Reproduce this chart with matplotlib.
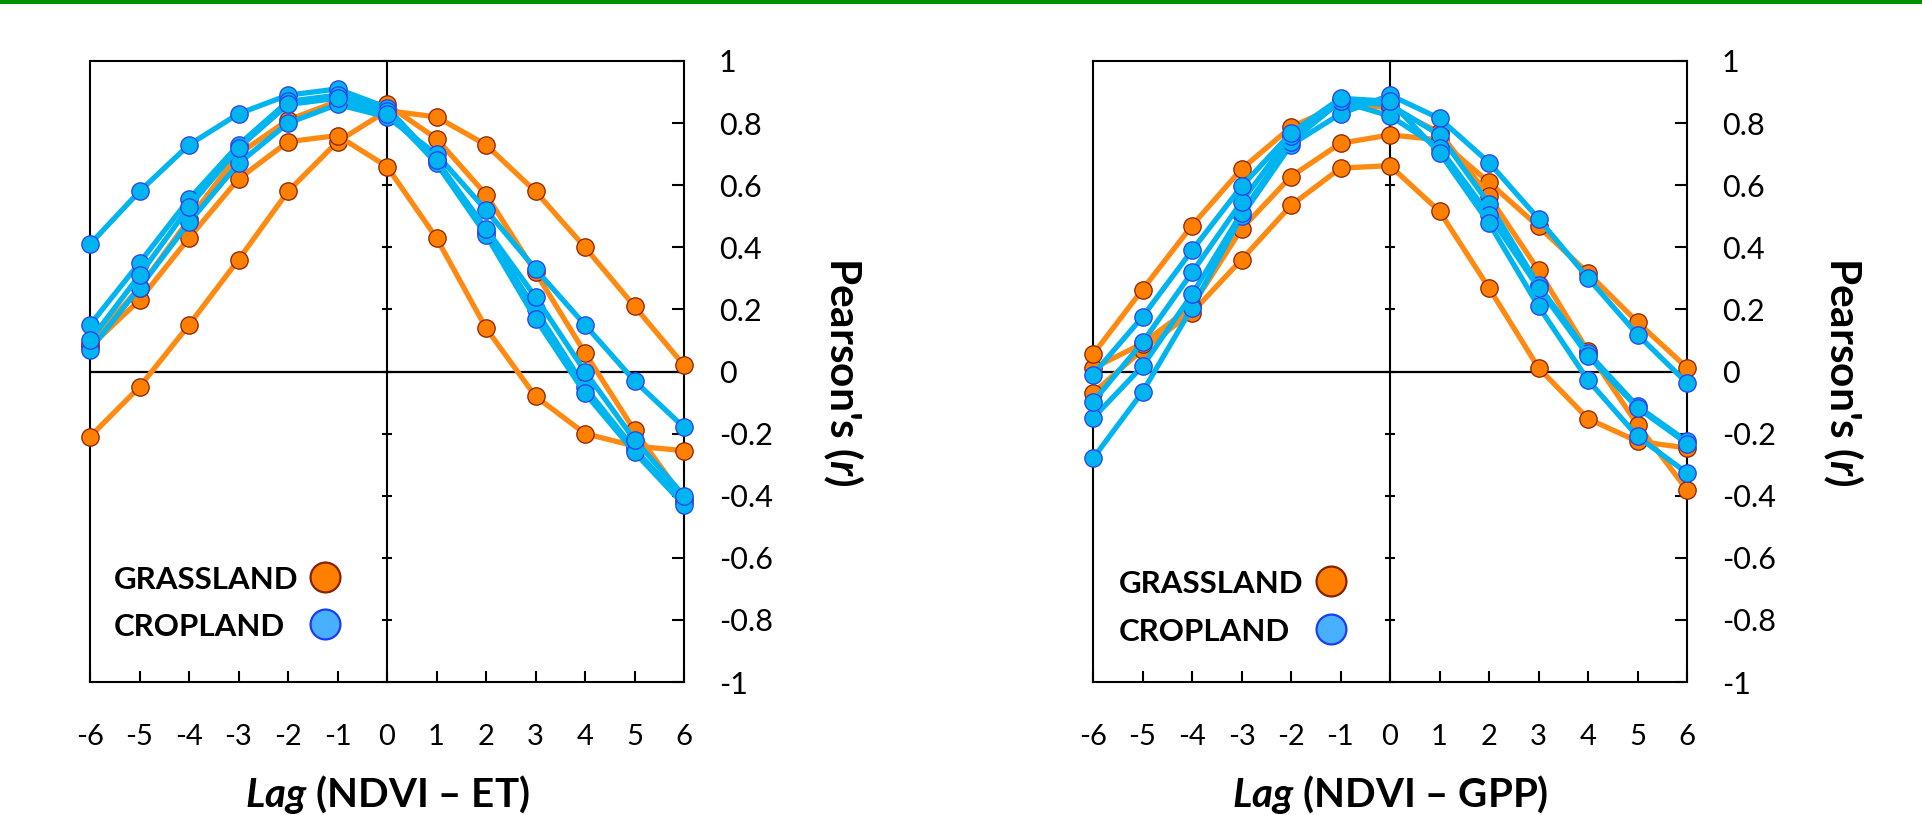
import matplotlib
matplotlib.use('Agg')
import matplotlib.pyplot as plt
from matplotlib.patches import Rectangle

# ---------------- data ----------------
lags = [-6, -5, -4, -3, -2, -1, 0, 1, 2, 3, 4, 5, 6]
lag_labels = [str(v) for v in lags]
y_ticks = [-1, -0.8, -0.6, -0.4, -0.2, 0, 0.2, 0.4, 0.6, 0.8, 1]
y_tick_labels = ['-1', '-0.8', '-0.6', '-0.4', '-0.2', '0', '0.2', '0.4', '0.6', '0.8', '1']

# NDVI - ET : grassland sites
et_grass_1 = [-0.21, -0.05, 0.15, 0.36, 0.58, 0.74, 0.84, 0.82, 0.73, 0.58, 0.40, 0.21, 0.02]
et_grass_2 = [0.08, 0.23, 0.43, 0.62, 0.74, 0.76, 0.66, 0.43, 0.14, -0.08, -0.20, -0.24, -0.255]
et_grass_3 = [0.09, 0.27, 0.49, 0.70, 0.81, 0.87, 0.86, 0.75, 0.57, 0.32, 0.06, -0.19, -0.41]
# NDVI - ET : cropland sites
et_crop_1 = [0.41, 0.58, 0.73, 0.83, 0.89, 0.91, 0.85, 0.68, 0.45, 0.20, -0.05, -0.25, -0.42]
et_crop_2 = [0.07, 0.27, 0.48, 0.67, 0.80, 0.86, 0.82, 0.70, 0.52, 0.33, 0.15, -0.03, -0.18]
et_crop_3 = [0.15, 0.35, 0.555, 0.73, 0.87, 0.89, 0.84, 0.67, 0.44, 0.17, -0.07, -0.26, -0.43]
et_crop_4 = [0.10, 0.31, 0.53, 0.72, 0.86, 0.88, 0.83, 0.68, 0.46, 0.24, 0.00, -0.22, -0.40]

# NDVI - GPP : grassland sites
gpp_grass_1 = [-0.07, 0.07, 0.19, 0.36, 0.535, 0.655, 0.663, 0.516, 0.269, 0.012, -0.152, -0.225, -0.246]
gpp_grass_2 = [0.01, 0.09, 0.21, 0.459, 0.628, 0.735, 0.762, 0.746, 0.609, 0.467, 0.317, 0.159, 0.012]
gpp_grass_3 = [0.055, 0.264, 0.47, 0.652, 0.787, 0.86, 0.85, 0.77, 0.564, 0.326, 0.065, -0.171, -0.381]
# NDVI - GPP : cropland sites
gpp_crop_1 = [-0.28, -0.066, 0.205, 0.50, 0.73, 0.83, 0.89, 0.815, 0.673, 0.492, 0.301, 0.119, -0.037]
gpp_crop_2 = [-0.15, 0.017, 0.248, 0.51, 0.74, 0.87, 0.859, 0.762, 0.54, 0.278, 0.06, -0.112, -0.225]
gpp_crop_3 = [-0.098, 0.094, 0.319, 0.546, 0.76, 0.87, 0.823, 0.72, 0.505, 0.269, 0.051, -0.117, -0.232]
gpp_crop_4 = [-0.01, 0.176, 0.39, 0.596, 0.768, 0.88, 0.87, 0.705, 0.478, 0.21, -0.028, -0.209, -0.327]

legend_labels = ['GRASSLAND', 'CROPLAND']

# ---------------- style ----------------
plt.rcParams['font.family'] = ['Lato', 'DejaVu Sans']
plt.rcParams['mathtext.fontset'] = 'custom'
plt.rcParams['mathtext.it'] = 'Lato:italic:bold'
plt.rcParams['mathtext.rm'] = 'Lato:bold'
plt.rcParams['mathtext.bf'] = 'Lato:bold'

ORANGE_LINE = '#FF8A12'
ORANGE_FACE = '#FF8000'
ORANGE_EDGE = '#8B2000'
BLUE_LINE = '#00B4F0'
BLUE_FACE = '#00B4F0'
BLUE_EDGE = '#2A3CF0'
LEG_BLUE_FACE = '#48B0FF'
LEG_BLUE_EDGE = '#1A3CFF'

W, H = 1922, 815
fig = plt.figure(figsize=(W / 100, H / 100), dpi=100)

# green rule at the top
fig.add_artist(Rectangle((0, 1 - 4 / H), 1, 4 / H, transform=fig.transFigure,
                         facecolor='#009100', edgecolor='none'))

panels = [
    dict(left=90, grass=[et_grass_1, et_grass_2, et_grass_3],
         crop=[et_crop_1, et_crop_2, et_crop_3, et_crop_4],
         xlabel=r'$Lag$ (NDVI – ET)', ylab_x=843,
         leg_x=0.040, leg_y=[0.169, 0.093], leg_mx=0.3956),
    dict(left=1093, grass=[gpp_grass_1, gpp_grass_2, gpp_grass_3],
         crop=[gpp_crop_1, gpp_crop_2, gpp_crop_3, gpp_crop_4],
         xlabel=r'$Lag$ (NDVI – GPP)', ylab_x=1843,
         leg_x=0.044, leg_y=[0.1626, 0.0853], leg_mx=0.4007),
]

ax_w, ax_top, ax_bot = 594, 61, 682

for p in panels:
    ax = fig.add_axes([p['left'] / W, 1 - ax_bot / H, ax_w / W, (ax_bot - ax_top) / H])
    ax.set_xlim(-6, 6)
    ax.set_ylim(-1, 1)
    for s in ax.spines.values():
        s.set_linewidth(1.5)
        s.set_color('black')

    ax.axhline(0, color='black', lw=1.6, zorder=1.5)
    sec = ax.secondary_yaxis(0.5)
    sec.set_yticks(y_ticks)
    sec.tick_params(axis='y', direction='inout', length=7, width=1.5,
                    labelleft=False, labelright=False)
    for s in sec.spines.values():
        s.set_linewidth(1.5)

    for vals in p['grass']:
        ax.plot(lags, vals, color=ORANGE_LINE, lw=3.8, marker='o', ms=12.5,
                mfc=ORANGE_FACE, mec=ORANGE_EDGE, mew=0.9, zorder=3, clip_on=False)
    for vals in p['crop']:
        ax.plot(lags, vals, color=BLUE_LINE, lw=3.8, marker='o', ms=12.5,
                mfc=BLUE_FACE, mec=BLUE_EDGE, mew=0.9, zorder=4, clip_on=False)

    ax.set_xticks(lags)
    ax.set_xticklabels(lag_labels)
    ax.tick_params(axis='x', direction='in', length=8, width=1.5, bottom=True, top=False,
                   labelsize=21, pad=30)
    ax.yaxis.tick_right()
    ax.set_yticks(y_ticks)
    ax.set_yticklabels(y_tick_labels)
    ax.tick_params(axis='y', direction='in', length=8.5, width=1.5, left=False, right=True,
                   labelleft=False, labelright=True, labelsize=22, pad=25)

    ax.set_xlabel(p['xlabel'], fontsize=29, fontweight='bold')
    ax.xaxis.set_label_coords(0.5, (ax_bot - 794) / (ax_bot - ax_top))
    ax.xaxis.label.set_va('center')

    ax.yaxis.set_label_position('right')
    ax.set_ylabel(r"Pearson's ($r$)", fontsize=30.5, fontweight='bold', rotation=270)
    ax.yaxis.set_label_coords((p['ylab_x'] - p['left']) / ax_w, 0.5)
    ax.yaxis.label.set_va('center')

    # legend: label text followed by a key circle
    faces = [(ORANGE_FACE, ORANGE_EDGE), (LEG_BLUE_FACE, LEG_BLUE_EDGE)]
    for lab, ly, (fc, ec) in zip(legend_labels, p['leg_y'], faces):
        ax.text(p['leg_x'], ly, lab, transform=ax.transAxes, fontsize=22.5,
                fontweight='bold', ha='left', va='center_baseline')
        ax.plot([p['leg_mx']], [ly], transform=ax.transAxes, marker='o', ms=21.5,
                mfc=fc, mec=ec, mew=1.6, ls='none', clip_on=False, zorder=5)

fig.savefig('out.png', dpi=100)
